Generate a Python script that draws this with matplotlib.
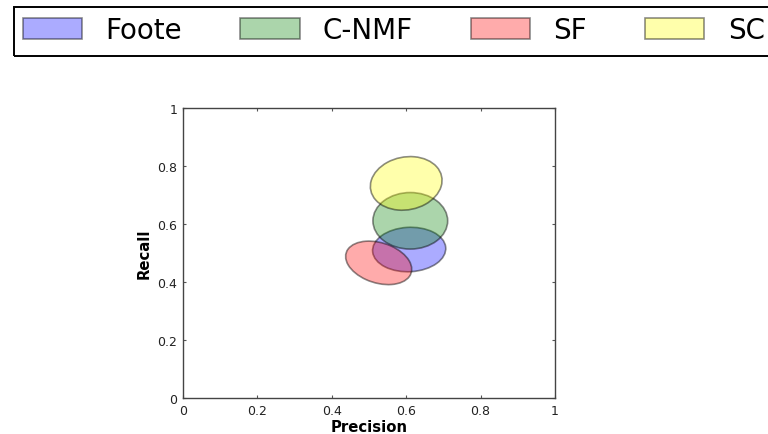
#!/usr/bin/env python3
"""
Draws the precision/recall spread of four segmentation methods as
semi-transparent ellipses, one per method, with a wide legend on top.
"""

import matplotlib
matplotlib.use("Agg")
import matplotlib.pyplot as plt
from matplotlib.colors import to_rgba
from matplotlib.patches import Ellipse, Rectangle

# Methods and their ellipse parameters (data coordinates)
methods = ["Foote", "C-NMF", "SF", "SC"]
colors = ["blue", "green", "red", "yellow"]
center_precision = [0.608, 0.611, 0.526, 0.600]
center_recall = [0.512, 0.611, 0.466, 0.740]
ellipse_width = [0.197, 0.201, 0.190, 0.200]
ellipse_height = [0.153, 0.195, 0.134, 0.177]
ellipse_angle = [5, 0, -30, 35]

tick_values = [0, 0.2, 0.4, 0.6, 0.8, 1]
tick_labels = ["0", "0.2", "0.4", "0.6", "0.8", "1"]

W, H = 768, 435


def add_ellipses(ax):
    """Adds one ellipse per method and returns the patches for the legend."""
    handles = []
    for i in range(len(methods)):
        e = Ellipse((center_precision[i], center_recall[i]),
                    ellipse_width[i], ellipse_height[i],
                    angle=ellipse_angle[i],
                    facecolor=to_rgba(colors[i], 0.33),
                    edgecolor=(0, 0, 0, 0.45),
                    linewidth=1.2, label=methods[i])
        ax.add_patch(e)
        handles.append(e)
    return handles


def main():
    fig = plt.figure(figsize=(W / 100, H / 100), dpi=100)
    fig.patch.set_facecolor("white")

    # axes box in pixels: x 183..555, y 109..399 from the top
    ax = fig.add_axes([183 / W, (H - 399) / H, 372 / W, 290 / H])
    handles = add_ellipses(ax)

    ax.set_xlim(0, 1)
    ax.set_ylim(0, 1)
    ax.set_xticks(tick_values)
    ax.set_xticklabels(tick_labels)
    ax.set_yticks(tick_values)
    ax.set_yticklabels(tick_labels)
    ax.tick_params(direction="in", length=2.5, width=0.8, color="#555555",
                   top=True, right=True, labelsize=9, labelcolor="#222222",
                   pad=4)
    for s in ax.spines.values():
        s.set_color("#444444")
        s.set_linewidth(1.0)

    ax.set_xlabel("Precision", fontsize=10.7, fontweight="bold", labelpad=2)
    ax.set_ylabel("Recall", fontsize=10.7, fontweight="bold", labelpad=4)

    # legend across the top; its frame runs off the right edge
    fig.legend(handles, methods, loc="center left",
               bbox_to_anchor=(13.5 / W, 1 - 31 / H), borderaxespad=0,
               borderpad=0.34, ncol=4, fontsize=20, frameon=False,
               handlelength=2.14, handleheight=0.79, handletextpad=0.84,
               columnspacing=2.08)
    frame = Rectangle((13.5 / W, (H - 57.3) / H), 800 / W, 49.8 / H,
                      transform=fig.transFigure, fill=False,
                      edgecolor="black", linewidth=1.4, clip_on=False)
    fig.patches.append(frame)

    plt.savefig("out.png", dpi=100)
    plt.close()


if __name__ == '__main__':
    main()
